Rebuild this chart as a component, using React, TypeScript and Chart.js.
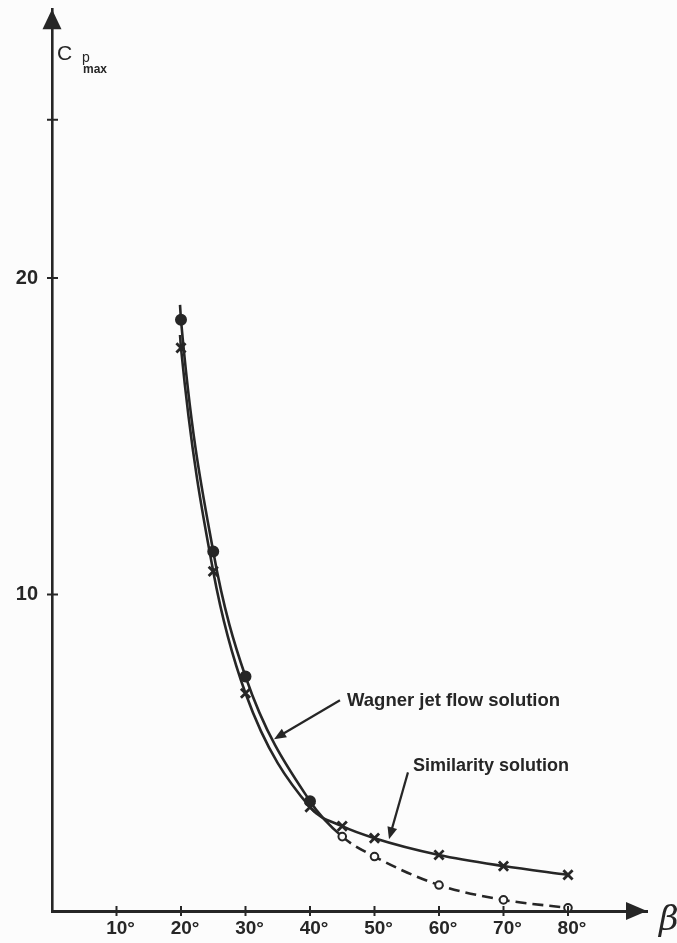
import React, { useEffect, useRef } from "react";
import { Chart, registerables } from "chart.js";

Chart.register(...registerables);

// ---- data ----
const xTickValues = [10, 20, 30, 40, 50, 60, 70, 80];
const yTickValues = [10, 20, 25];
const yTickLabels = ["10", "20", ""];

// Wagner jet flow solution (filled dots, solid; open circles, dashed from 45°)
// first entry is where the drawn line starts (no marker)
const wagnerBeta = [19.85, 20, 25, 30, 40, 45, 50, 60, 70, 80];
const wagnerCp = [19.15, 18.68, 11.36, 7.41, 3.47, 2.35, 1.72, 0.82, 0.35, 0.1];

// Similarity solution (crosses, solid); first entry is the line start (no marker)
const similarityBeta = [19.85, 20, 25, 30, 40, 45, 50, 60, 70, 80];
const similarityCp = [18.2, 17.79, 10.73, 6.88, 3.28, 2.68, 2.3, 1.77, 1.42, 1.14];

const DASH_FROM = 45;

const INK = "#262626";
const BG = "#fcfcfc";
const FONT = "'Liberation Sans', Arial, Helvetica, sans-serif";

function arrow(ctx: CanvasRenderingContext2D, x0: number, y0: number, x1: number, y1: number) {
  const ang = Math.atan2(y1 - y0, x1 - x0);
  const len = 12;
  const hw = 5;
  ctx.beginPath();
  ctx.moveTo(x0, y0);
  ctx.lineTo(x1 - Math.cos(ang) * len * 0.8, y1 - Math.sin(ang) * len * 0.8);
  ctx.stroke();
  ctx.beginPath();
  ctx.moveTo(x1, y1);
  ctx.lineTo(x1 - Math.cos(ang) * len + Math.sin(ang) * hw, y1 - Math.sin(ang) * len - Math.cos(ang) * hw);
  ctx.lineTo(x1 - Math.cos(ang) * len - Math.sin(ang) * hw, y1 - Math.sin(ang) * len + Math.cos(ang) * hw);
  ctx.closePath();
  ctx.fill();
}

const decorPlugin = {
  id: "decor",
  beforeDraw(chart: any) {
    const { ctx, width, height } = chart;
    ctx.save();
    ctx.fillStyle = BG;
    ctx.fillRect(0, 0, width, height);
    ctx.restore();
  },
  afterDraw(chart: any) {
    const { ctx, chartArea: a, scales } = chart;
    const x = scales.x;
    const y = scales.y;
    ctx.save();
    ctx.fillStyle = INK;
    ctx.strokeStyle = INK;

    // axis arrowheads
    const ax = a.left;
    const ay = a.bottom;
    ctx.beginPath();
    ctx.moveTo(ax, a.top);
    ctx.lineTo(ax - 9.5, a.top + 20);
    ctx.lineTo(ax + 9.5, a.top + 20);
    ctx.closePath();
    ctx.fill();
    ctx.beginPath();
    ctx.moveTo(a.right, ay);
    ctx.lineTo(a.right - 21, ay - 9);
    ctx.lineTo(a.right - 21, ay + 9);
    ctx.closePath();
    ctx.fill();

    // tick marks crossing the axes
    ctx.lineWidth = 2;
    xTickValues.forEach((v) => {
      const px = x.getPixelForValue(v);
      ctx.beginPath();
      ctx.moveTo(px, ay - 5);
      ctx.lineTo(px, ay + 5);
      ctx.stroke();
    });
    yTickValues.forEach((v) => {
      const py = y.getPixelForValue(v);
      ctx.beginPath();
      ctx.moveTo(ax - 5, py);
      ctx.lineTo(ax + 6, py);
      ctx.stroke();
    });

    // y-axis title C_p max
    ctx.textBaseline = "alphabetic";
    ctx.textAlign = "left";
    ctx.font = `21px ${FONT}`;
    ctx.fillText("C", 57, 60);
    ctx.font = `14px ${FONT}`;
    ctx.fillText("p", 82, 62);
    ctx.font = `bold 12px ${FONT}`;
    ctx.fillText("max", 83, 73);

    // x-axis title beta
    ctx.font = `italic 34px 'DejaVu Serif', serif`;
    ctx.fillText("\u03B2", 659, 930);

    // annotations
    ctx.lineWidth = 2.2;
    ctx.font = `bold 18.5px ${FONT}`;
    ctx.fillText("Wagner jet flow solution", x.getPixelForValue(45.74), y.getPixelForValue(6.47));
    arrow(ctx, x.getPixelForValue(44.65), y.getPixelForValue(6.66), x.getPixelForValue(34.42), y.getPixelForValue(5.43));
    ctx.font = `bold 18px ${FONT}`;
    ctx.fillText("Similarity solution", x.getPixelForValue(55.97), y.getPixelForValue(4.42));
    arrow(ctx, x.getPixelForValue(55.19), y.getPixelForValue(4.38), x.getPixelForValue(52.25), y.getPixelForValue(2.27));

    ctx.restore();
  },
};

export default function App() {
  const ref = useRef<HTMLCanvasElement | null>(null);

  useEffect(() => {
    if (!ref.current) return;
    const chart = new Chart(ref.current, {
      type: "scatter",
      data: {
        datasets: [
          {
            label: "Wagner jet flow solution",
            data: wagnerBeta.map((b, i) => ({ x: b, y: wagnerCp[i] })),
            showLine: true,
            borderColor: INK,
            borderWidth: 2.6,
            cubicInterpolationMode: "monotone",
            pointStyle: "circle",
            pointRadius: (c: any) => (c.dataIndex === 0 ? 0 : c.raw && c.raw.x >= DASH_FROM ? 3.8 : 5),
            pointBackgroundColor: (c: any) => (c.raw && c.raw.x >= DASH_FROM ? BG : INK),
            pointBorderColor: INK,
            pointBorderWidth: 2,
            segment: {
              borderDash: (c: any) => (c.p0.parsed.x >= DASH_FROM ? [11, 6] : undefined),
            },
          } as any,
          {
            label: "Similarity solution",
            data: similarityBeta.map((b, i) => ({ x: b, y: similarityCp[i] })),
            showLine: true,
            borderColor: INK,
            borderWidth: 2.6,
            cubicInterpolationMode: "monotone",
            pointStyle: "crossRot",
            pointRadius: (c: any) => (c.dataIndex === 0 ? 0 : 6.5),
            pointBorderColor: INK,
            pointBorderWidth: 2.8,
          } as any,
        ],
      },
      options: {
        responsive: false,
        animation: false,
        clip: false as any,
        layout: { padding: { left: 0, right: 30, top: 8, bottom: 0 } },
        plugins: {
          legend: { display: false },
          tooltip: { enabled: false },
        },
        scales: {
          x: {
            type: "linear",
            min: 0,
            max: 92.25,
            grid: { display: false, drawTicks: false },
            border: { display: true, color: INK, width: 3 },
            afterBuildTicks: (s: any) => {
              s.ticks = xTickValues.map((v) => ({ value: v }));
            },
            afterFit: (s: any) => {
              s.height = 32;
              s.paddingLeft = 0;
              s.paddingRight = 0;
            },
            ticks: {
              color: INK,
              font: { family: FONT, size: 19, weight: "bold" },
              padding: 6,
              labelOffset: 4,
              maxRotation: 0,
              autoSkip: false,
              callback: (v: any) => `${v}\u00B0`,
            },
          },
          y: {
            type: "linear",
            min: 0,
            max: 28.49,
            grid: { display: false, drawTicks: false },
            border: { display: true, color: INK, width: 2.6 },
            afterBuildTicks: (s: any) => {
              s.ticks = yTickValues.map((v) => ({ value: v }));
            },
            afterFit: (s: any) => {
              s.width = 52;
              s.paddingTop = 0;
              s.paddingBottom = 0;
            },
            ticks: {
              color: INK,
              font: { family: FONT, size: 20, weight: "bold" },
              padding: 14,
              autoSkip: false,
              callback: (v: any) => {
                const i = yTickValues.indexOf(Number(v));
                return i >= 0 ? yTickLabels[i] : "";
              },
            },
          },
        },
      },
      plugins: [decorPlugin],
    });
    return () => chart.destroy();
  }, []);

  return (
    <div style={{ position: "absolute", left: 0, top: 0, width: 677, height: 943, background: BG }}>
      <canvas ref={ref} width={677} height={943} style={{ width: 677, height: 943, display: "block" }} />
    </div>
  );
}
